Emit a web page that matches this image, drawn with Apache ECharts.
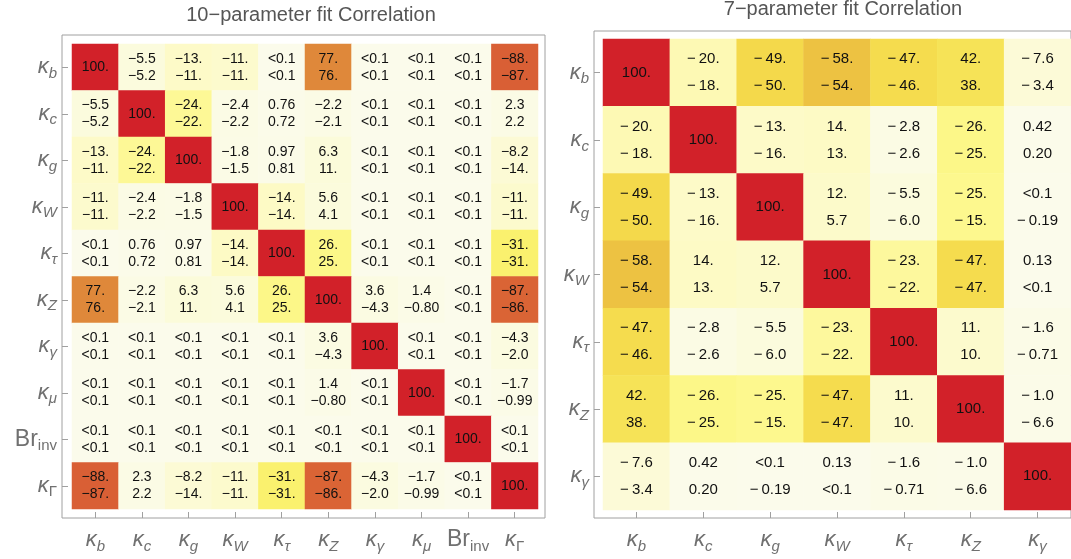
<!DOCTYPE html>
<html>
<head>
<meta charset="utf-8">
<script src="https://cdn.jsdelivr.net/npm/echarts@6/dist/echarts.min.js"></script>
<style>html,body{margin:0;padding:0;background:#fff;}#c{width:1071px;height:559px;}</style>
</head>
<body>
<div id="c"></div>
<script>
// ---- data ----
const params10 = ['kb','kc','kg','kW','ktau','kZ','kgam','kmu','Brinv','kGam'];
const params7 = ['kb','kc','kg','kW','ktau','kZ','kgam'];
const L = '<0.1';
// 10-parameter fit: upper and lower numbers in each cell (%)
const upper10 = [
  ['100.','-5.5','-13.','-11.',L,'77.',L,L,L,'-88.'],
  ['-5.5','100.','-24.','-2.4','0.76','-2.2',L,L,L,'2.3'],
  ['-13.','-24.','100.','-1.8','0.97','6.3',L,L,L,'-8.2'],
  ['-11.','-2.4','-1.8','100.','-14.','5.6',L,L,L,'-11.'],
  [L,'0.76','0.97','-14.','100.','26.',L,L,L,'-31.'],
  ['77.','-2.2','6.3','5.6','26.','100.','3.6','1.4',L,'-87.'],
  [L,L,L,L,L,'3.6','100.',L,L,'-4.3'],
  [L,L,L,L,L,'1.4',L,'100.',L,'-1.7'],
  [L,L,L,L,L,L,L,L,'100.',L],
  ['-88.','2.3','-8.2','-11.','-31.','-87.','-4.3','-1.7',L,'100.']
];
const lower10 = [
  ['100.','-5.2','-11.','-11.',L,'76.',L,L,L,'-87.'],
  ['-5.2','100.','-22.','-2.2','0.72','-2.1',L,L,L,'2.2'],
  ['-11.','-22.','100.','-1.5','0.81','11.',L,L,L,'-14.'],
  ['-11.','-2.2','-1.5','100.','-14.','4.1',L,L,L,'-11.'],
  [L,'0.72','0.81','-14.','100.','25.',L,L,L,'-31.'],
  ['76.','-2.1','11.','4.1','25.','100.','-4.3','-0.80',L,'-86.'],
  [L,L,L,L,L,'-4.3','100.',L,L,'-2.0'],
  [L,L,L,L,L,'-0.80',L,'100.',L,'-0.99'],
  [L,L,L,L,L,L,L,L,'100.',L],
  ['-87.','2.2','-14.','-11.','-31.','-86.','-2.0','-0.99',L,'100.']
];
// 7-parameter fit
const upper7 = [
  ['100.','-20.','-49.','-58.','-47.','42.','-7.6'],
  ['-20.','100.','-13.','14.','-2.8','-26.','0.42'],
  ['-49.','-13.','100.','12.','-5.5','-25.',L],
  ['-58.','14.','12.','100.','-23.','-47.','0.13'],
  ['-47.','-2.8','-5.5','-23.','100.','11.','-1.6'],
  ['42.','-26.','-25.','-47.','11.','100.','-1.0'],
  ['-7.6','0.42',L,'0.13','-1.6','-1.0','100.']
];
const lower7 = [
  ['100.','-18.','-50.','-54.','-46.','38.','-3.4'],
  ['-18.','100.','-16.','13.','-2.6','-25.','0.20'],
  ['-50.','-16.','100.','5.7','-6.0','-15.','-0.19'],
  ['-54.','13.','5.7','100.','-22.','-47.',L],
  ['-46.','-2.6','-6.0','-22.','100.','10.','-0.71'],
  ['38.','-25.','-15.','-47.','10.','100.','-6.6'],
  ['-3.4','0.20','-0.19',L,'-0.71','-6.6','100.']
];
const titles = ['10\u2212parameter fit Correlation', '7\u2212parameter fit Correlation'];

// ---- helpers ----
const labelRich = {
  kb:'{k|κ}{s|b}', kc:'{k|κ}{s|c}', kg:'{k|κ}{s|g}', kW:'{k|κ}{s|W}', ktau:'{k|κ}{s|τ}',
  kZ:'{k|κ}{s|Z}', kgam:'{k|κ}{s|γ}', kmu:'{k|κ}{s|μ}', Brinv:'{r|Br}{u|inv}', kGam:'{k|κ}{u|Γ}'
};
const richStyles = {
  k:{fontSize:22,fontStyle:'italic',color:'#707070',lineHeight:28,fontFamily:'Liberation Sans'},
  s:{fontSize:15,fontStyle:'italic',color:'#707070',lineHeight:12,verticalAlign:'bottom',fontFamily:'Liberation Sans'},
  r:{fontSize:23,color:'#707070',lineHeight:28,fontFamily:'Liberation Sans'},
  u:{fontSize:15,color:'#707070',lineHeight:12,verticalAlign:'bottom',fontFamily:'Liberation Sans'}
};
function num(s){ return s === L ? 0 : Math.abs(parseFloat(s)); }
function buildData(up, lo){
  const d = [];
  for (let i = 0; i < up.length; i++)
    for (let j = 0; j < up[i].length; j++)
      d.push([j, i, num(up[i][j]), up[i][j], lo[i][j]]);
  return d;
}
function fmt(s, sp){ return s.replace('-', '\u2212' + sp); }

const frames = [
  {left:62, top:35, width:483, height:483},
  {left:594, top:31, width:490, height:487}
];
const cells = [
  {left:72, top:44, width:466, height:465},
  {left:603, top:39, width:472.5, height:471}
];
const offs = [{x:9,y:10},{x:8,y:9}];

const grid = [], xAxis = [], yAxis = [], series = [];
const sets = [
  {names:params10, up:upper10, lo:lower10, fs:14, lh:17, sp:''},
  {names:params7, up:upper7, lo:lower7, fs:15, lh:27, sp:'\u2009'}
];
sets.forEach((st, k) => {
  // frame grid
  grid.push(Object.assign({show:true, borderColor:'#a0a0a0', borderWidth:1, backgroundColor:'transparent'}, frames[k]));
  xAxis.push({type:'value', gridIndex:2*k, show:false, min:0, max:1});
  yAxis.push({type:'value', gridIndex:2*k, show:false, min:0, max:1});
  // cell grid
  grid.push(Object.assign({show:false}, cells[k]));
  xAxis.push({
    type:'category', gridIndex:2*k+1, data:st.names, position:'bottom', offset:offs[k].x,
    axisLine:{show:false}, splitLine:{show:false},
    axisTick:{show:true, inside:true, alignWithLabel:true, interval:0, length:6, lineStyle:{color:'#a0a0a0'}},
    axisLabel:{margin:8, interval:0, formatter:v => labelRich[v], rich:richStyles}
  });
  yAxis.push({
    type:'category', gridIndex:2*k+1, data:st.names, inverse:true, position:'left', offset:offs[k].y,
    axisLine:{show:false}, splitLine:{show:false},
    axisTick:{show:true, inside:true, alignWithLabel:true, interval:0, length:6, lineStyle:{color:'#a0a0a0'}},
    axisLabel:{margin:5, interval:0, formatter:v => labelRich[v], rich:richStyles}
  });
  series.push({
    type:'heatmap', xAxisIndex:2*k+1, yAxisIndex:2*k+1,
    data: buildData(st.up, st.lo),
    itemStyle:{borderWidth:0},
    label:{
      show:true, color:'#111', fontSize:st.fs, lineHeight:st.lh, fontFamily:'Liberation Sans',
      formatter: p => p.data[3] === '100.' ? '100.' : fmt(p.data[3], st.sp) + '\n' + fmt(p.data[4], st.sp)
    },
    emphasis:{disabled:true}
  });
});

const chart = echarts.init(document.getElementById('c'), null, {renderer:'canvas'});
chart.setOption({
  animation:false,
  backgroundColor:'#fff',
  title:[
    {text:titles[0], left:306, top:0, textAlign:'center', textStyle:{fontSize:20, fontWeight:'normal', color:'#555', fontFamily:'Liberation Sans'}},
    {text:titles[1], left:838, top:-6, textAlign:'center', textStyle:{fontSize:20, fontWeight:'normal', color:'#555', fontFamily:'Liberation Sans'}}
  ],
  grid, xAxis, yAxis,
  visualMap:{
    show:false, type:'continuous', min:0, max:100, dimension:2, seriesIndex:[0,1],
    inRange:{color:['#fbfbeb','#fbfbde','#fcfad0','#fdfac2','#fdf9b4','#fdf88e','#faf270','#f8ec64','#f7e65c','#f5df50','#f4d84a','#efca44','#ebbd40','#e7ae3e','#e49e3c','#e08e3a','#de7e39','#db6c37','#d85733','#d53c2e','#d22129']}
  },
  series
});
</script>
</body>
</html>
